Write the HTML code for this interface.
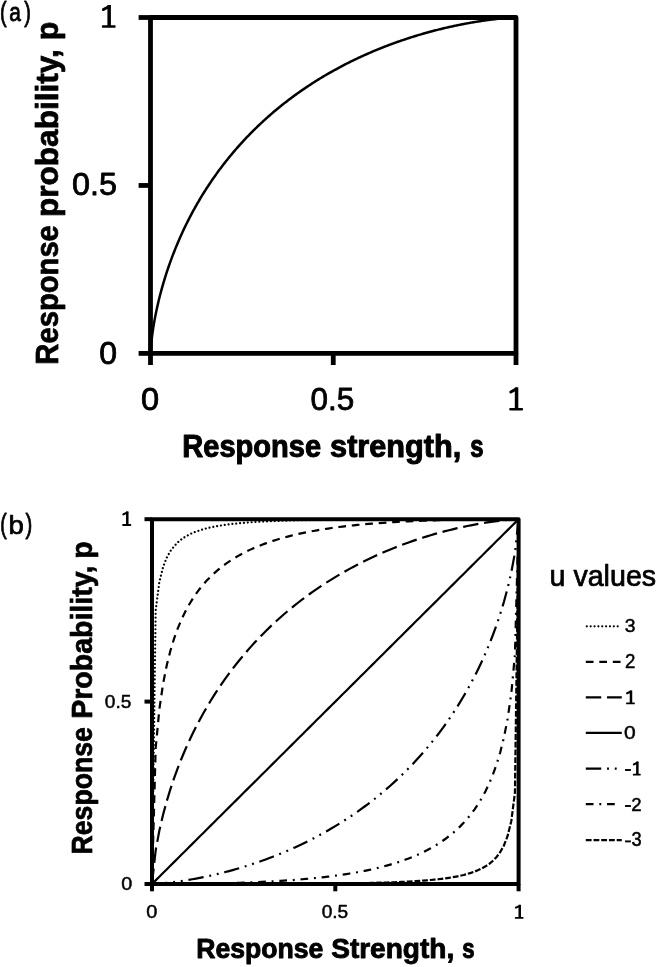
<!DOCTYPE html>
<html><head><meta charset="utf-8"><title>Response probability vs response strength</title>
<style>html,body{margin:0;padding:0;background:#fff;width:657px;height:967px;overflow:hidden}svg{display:block;filter:grayscale(1)}text{font-family:"Liberation Sans",sans-serif}</style>
</head><body>
<svg width="657" height="967" viewBox="0 0 657 967">
<rect width="657" height="967" fill="#fff"/>
<g font-family="Liberation Sans, sans-serif" fill="#000">
<text transform="matrix(0.20000,0,0,0.26989,-0.045,20.857)" font-size="100" stroke="#000" stroke-width="3.228" stroke-linejoin="round">(</text>
<text transform="matrix(0.20865,0,0,0.25000,9.140,20.875)" font-size="100" stroke="#000" stroke-width="3.284" stroke-linejoin="round">a</text>
<text transform="matrix(0.19808,0,0,0.26989,24.277,20.857)" font-size="100" stroke="#000" stroke-width="3.244" stroke-linejoin="round">)</text>
<rect x="107.41" y="5.00" width="3.50" height="21.45"/>
<rect x="101.90" y="25.20" width="13.70" height="2.50" rx="0.75"/>
<line x1="109.16" y1="6.50" x2="103.40" y2="9.54" stroke="#000" stroke-width="3.00" stroke-linecap="round"/>
<text transform="matrix(0.32352,0,0,0.31382,71.915,195.277)" font-size="100" stroke="#000" stroke-width="2.570" stroke-linejoin="round">0.5</text>
<text transform="matrix(0.32006,0,0,0.32060,99.338,363.961)" font-size="100" stroke="#000" stroke-width="2.614" stroke-linejoin="round">0</text>
<text transform="matrix(0.32614,0,0,0.32049,140.918,410.057)" font-size="100" stroke="#000" stroke-width="2.614" stroke-linejoin="round">0</text>
<text transform="matrix(0.31442,0,0,0.31675,310.548,409.878)" font-size="100" stroke="#000" stroke-width="2.570" stroke-linejoin="round">0.5</text>
<rect x="514.81" y="387.40" width="3.50" height="21.75"/>
<rect x="509.30" y="407.90" width="13.70" height="2.50" rx="0.75"/>
<line x1="516.56" y1="388.90" x2="510.80" y2="392.00" stroke="#000" stroke-width="3.00" stroke-linecap="round"/>
<text transform="matrix(0.29060,0,0,0.30971,182.260,456.802)" font-size="100" font-weight="bold" stroke="#000" stroke-width="3.292" stroke-linejoin="round">Response</text>
<text transform="matrix(0.30698,0,0,0.30971,330.066,456.802)" font-size="100" font-weight="bold" stroke="#000" stroke-width="3.203" stroke-linejoin="round">strength,</text>
<text transform="matrix(0.23856,0,0,0.30971,470.340,456.802)" font-size="100" font-weight="bold" stroke="#000" stroke-width="3.633" stroke-linejoin="round">s</text>
<text transform="matrix(0,-0.29197,0.31757,0,58.057,364.670)" font-size="100" font-weight="bold" stroke="#000" stroke-width="2.457" stroke-linejoin="round">Response</text>
<text transform="matrix(0,-0.31593,0.31757,0,58.057,217.037)" font-size="100" font-weight="bold" stroke="#000" stroke-width="2.362" stroke-linejoin="round">probability,</text>
<text transform="matrix(0,-0.30503,0.31757,0,58.057,40.361)" font-size="100" font-weight="bold" stroke="#000" stroke-width="2.404" stroke-linejoin="round">p</text>
<text transform="matrix(0.19423,0,0,0.27021,0.140,533.001)" font-size="100" stroke="#000" stroke-width="3.274" stroke-linejoin="round">(</text>
<text transform="matrix(0.27614,0,0,0.26575,8.542,533.725)" font-size="100" stroke="#000" stroke-width="2.769" stroke-linejoin="round">b</text>
<text transform="matrix(0.20346,0,0,0.27021,25.432,533.001)" font-size="100" stroke="#000" stroke-width="3.199" stroke-linejoin="round">)</text>
<rect x="126.03" y="511.50" width="2.50" height="13.50"/>
<rect x="122.30" y="524.10" width="8.90" height="1.80" rx="0.54"/>
<line x1="127.28" y1="512.55" x2="123.35" y2="514.38" stroke="#000" stroke-width="2.10" stroke-linecap="round"/>
<text transform="matrix(0.19090,0,0,0.19167,104.782,707.763)" font-size="100" stroke="#000" stroke-width="2.570" stroke-linejoin="round">0.5</text>
<text transform="matrix(0.19778,0,0,0.19005,121.262,890.457)" font-size="100" stroke="#000" stroke-width="2.614" stroke-linejoin="round">0</text>
<text transform="matrix(0.19981,0,0,0.19001,146.355,918.355)" font-size="100" stroke="#000" stroke-width="2.613" stroke-linejoin="round">0</text>
<text transform="matrix(0.19096,0,0,0.18613,321.678,918.172)" font-size="100" stroke="#000" stroke-width="2.570" stroke-linejoin="round">0.5</text>
<rect x="518.47" y="904.80" width="2.50" height="13.10"/>
<rect x="514.90" y="917.00" width="8.60" height="1.80" rx="0.54"/>
<line x1="519.72" y1="905.85" x2="515.95" y2="907.60" stroke="#000" stroke-width="2.10" stroke-linecap="round"/>
<text transform="matrix(0.26598,0,0,0.27249,196.281,957.635)" font-size="100" font-weight="bold" stroke="#000" stroke-width="3.290" stroke-linejoin="round">Response</text>
<text transform="matrix(0.28045,0,0,0.27249,331.201,957.635)" font-size="100" font-weight="bold" stroke="#000" stroke-width="3.204" stroke-linejoin="round">Strength,</text>
<text transform="matrix(0.22158,0,0,0.27249,462.256,957.635)" font-size="100" font-weight="bold" stroke="#000" stroke-width="3.604" stroke-linejoin="round">s</text>
<text transform="matrix(0,-0.26642,0.28957,0,91.579,854.425)" font-size="100" font-weight="bold" stroke="#000" stroke-width="2.450" stroke-linejoin="round">Response</text>
<text transform="matrix(0,-0.28512,0.28957,0,91.579,718.756)" font-size="100" font-weight="bold" stroke="#000" stroke-width="2.369" stroke-linejoin="round">Probability,</text>
<text transform="matrix(0,-0.28439,0.28957,0,91.579,558.750)" font-size="100" font-weight="bold" stroke="#000" stroke-width="2.372" stroke-linejoin="round">p</text>
<text transform="matrix(0.28609,0,0,0.29007,549.565,585.842)" font-size="100" stroke="#000" stroke-width="2.551" stroke-linejoin="round">u values</text>
<text transform="matrix(0.19354,0,0,0.19150,624.678,632.357)" font-size="100" stroke="#000" stroke-width="2.615" stroke-linejoin="round">3</text>
<text transform="matrix(0.18694,0,0,0.19570,625.016,668.050)" font-size="100" stroke="#000" stroke-width="2.618" stroke-linejoin="round">2</text>
<text transform="matrix(0.21008,0,0,0.18569,624.118,739.256)" font-size="100" stroke="#000" stroke-width="2.613" stroke-linejoin="round">0</text>
<text transform="matrix(0.18607,0,0,0.18871,631.365,810.655)" font-size="100" stroke="#000" stroke-width="2.618" stroke-linejoin="round">2</text>
<text transform="matrix(0.18210,0,0,0.19378,631.567,846.310)" font-size="100" stroke="#000" stroke-width="2.616" stroke-linejoin="round">3</text>
<rect x="629.72" y="690.50" width="2.50" height="12.80"/>
<rect x="626.10" y="702.40" width="8.70" height="1.80" rx="0.54"/>
<line x1="630.97" y1="691.55" x2="627.15" y2="693.24" stroke="#000" stroke-width="2.10" stroke-linecap="round"/>
<rect x="636.10" y="761.60" width="2.50" height="13.10"/>
<rect x="632.90" y="773.80" width="7.80" height="1.80" rx="0.54"/>
<line x1="637.35" y1="762.65" x2="633.95" y2="764.40" stroke="#000" stroke-width="2.10" stroke-linecap="round"/>
<rect x="625.0" y="769.05" width="5.9" height="1.9"/>
<rect x="625.0" y="805.05" width="5.9" height="1.9"/>
<rect x="625.0" y="840.45" width="5.9" height="1.9"/>
</g>
<path d="M150.50,353.40 L151.41,341.52 L152.33,334.07 L153.24,327.87 L154.16,322.38 L155.07,317.38 L155.98,312.76 L156.90,308.44 L157.81,304.36 L158.72,300.49 L159.64,296.79 L160.55,293.25 L161.47,289.84 L162.38,286.56 L163.29,283.39 L164.21,280.32 L165.12,277.35 L166.03,274.45 L166.95,271.64 L167.86,268.90 L168.78,266.23 L169.69,263.62 L170.60,261.08 L171.52,258.59 L172.43,256.15 L173.34,253.76 L174.26,251.42 L175.17,249.13 L176.09,246.88 L177.00,244.67 L177.91,242.51 L178.83,240.38 L179.74,238.28 L180.65,236.22 L181.57,234.20 L182.48,232.21 L183.39,230.24 L184.31,228.31 L185.22,226.41 L186.14,224.53 L187.05,222.69 L187.96,220.86 L188.88,219.07 L189.79,217.30 L190.70,215.55 L191.62,213.82 L192.53,212.12 L193.45,210.44 L194.36,208.78 L195.27,207.14 L196.19,205.52 L197.10,203.92 L198.01,202.34 L198.93,200.78 L199.84,199.24 L200.76,197.71 L201.67,196.20 L202.58,194.71 L203.50,193.23 L204.41,191.77 L205.32,190.33 L206.24,188.90 L207.15,187.49 L208.07,186.09 L208.98,184.71 L209.89,183.34 L210.81,181.98 L211.72,180.64 L212.63,179.31 L213.55,177.99 L214.46,176.69 L215.38,175.40 L216.29,174.12 L217.20,172.86 L218.12,171.60 L219.03,170.36 L219.94,169.13 L220.86,167.91 L221.77,166.70 L222.69,165.50 L223.60,164.31 L224.51,163.14 L225.43,161.97 L226.34,160.82 L227.25,159.67 L228.17,158.53 L229.08,157.41 L230.00,156.29 L230.91,155.18 L231.82,154.09 L232.74,153.00 L233.65,151.92 L234.56,150.85 L235.48,149.79 L236.39,148.73 L237.31,147.69 L238.22,146.65 L239.13,145.62 L240.05,144.60 L240.96,143.59 L241.88,142.59 L242.79,141.59 L243.70,140.60 L244.62,139.62 L245.53,138.65 L246.44,137.69 L247.36,136.73 L248.27,135.78 L249.19,134.83 L250.10,133.90 L251.01,132.97 L251.93,132.04 L252.84,131.13 L253.75,130.22 L254.67,129.32 L255.58,128.42 L256.50,127.53 L257.41,126.65 L258.32,125.77 L259.24,124.90 L260.15,124.04 L261.06,123.18 L261.98,122.33 L262.89,121.49 L263.81,120.65 L264.72,119.81 L265.63,118.99 L266.55,118.17 L267.46,117.35 L268.37,116.54 L269.29,115.73 L270.20,114.94 L271.12,114.14 L272.03,113.35 L272.94,112.57 L273.86,111.79 L274.77,111.02 L275.68,110.26 L276.60,109.49 L277.51,108.74 L278.43,107.99 L279.34,107.24 L280.25,106.50 L281.17,105.76 L282.08,105.03 L282.99,104.30 L283.91,103.58 L284.82,102.87 L285.74,102.15 L286.65,101.45 L287.56,100.74 L288.48,100.05 L289.39,99.35 L290.30,98.66 L291.22,97.98 L292.13,97.30 L293.05,96.62 L293.96,95.95 L294.87,95.28 L295.79,94.62 L296.70,93.96 L297.61,93.31 L298.53,92.66 L299.44,92.01 L300.36,91.37 L301.27,90.73 L302.18,90.10 L303.10,89.47 L304.01,88.85 L304.92,88.23 L305.84,87.61 L306.75,86.99 L307.66,86.39 L308.58,85.78 L309.49,85.18 L310.41,84.58 L311.32,83.99 L312.23,83.39 L313.15,82.81 L314.06,82.23 L314.98,81.65 L315.89,81.07 L316.80,80.50 L317.72,79.93 L318.63,79.36 L319.54,78.80 L320.46,78.25 L321.37,77.69 L322.28,77.14 L323.20,76.59 L324.11,76.05 L325.03,75.51 L325.94,74.97 L326.85,74.44 L327.77,73.91 L328.68,73.38 L329.60,72.86 L330.51,72.33 L331.42,71.82 L332.34,71.30 L333.25,70.79 L334.16,70.28 L335.08,69.78 L335.99,69.28 L336.90,68.78 L337.82,68.29 L338.73,67.79 L339.65,67.30 L340.56,66.82 L341.47,66.34 L342.39,65.86 L343.30,65.38 L344.22,64.90 L345.13,64.43 L346.04,63.97 L346.96,63.50 L347.87,63.04 L348.78,62.58 L349.70,62.12 L350.61,61.67 L351.52,61.22 L352.44,60.77 L353.35,60.33 L354.27,59.88 L355.18,59.44 L356.09,59.01 L357.01,58.57 L357.92,58.14 L358.83,57.71 L359.75,57.29 L360.66,56.87 L361.58,56.45 L362.49,56.03 L363.40,55.61 L364.32,55.20 L365.23,54.79 L366.14,54.38 L367.06,53.98 L367.97,53.58 L368.89,53.18 L369.80,52.78 L370.71,52.39 L371.63,52.00 L372.54,51.61 L373.45,51.22 L374.37,50.84 L375.28,50.46 L376.20,50.08 L377.11,49.70 L378.02,49.33 L378.94,48.96 L379.85,48.59 L380.76,48.22 L381.68,47.86 L382.59,47.49 L383.51,47.13 L384.42,46.78 L385.33,46.42 L386.25,46.07 L387.16,45.72 L388.08,45.37 L388.99,45.03 L389.90,44.68 L390.82,44.34 L391.73,44.00 L392.64,43.67 L393.56,43.34 L394.47,43.00 L395.38,42.67 L396.30,42.35 L397.21,42.02 L398.13,41.70 L399.04,41.38 L399.95,41.06 L400.87,40.75 L401.78,40.43 L402.69,40.12 L403.61,39.81 L404.52,39.51 L405.44,39.20 L406.35,38.90 L407.26,38.60 L408.18,38.30 L409.09,38.00 L410.00,37.71 L410.92,37.42 L411.83,37.13 L412.75,36.84 L413.66,36.56 L414.57,36.27 L415.49,35.99 L416.40,35.71 L417.31,35.43 L418.23,35.16 L419.14,34.89 L420.06,34.62 L420.97,34.35 L421.88,34.08 L422.80,33.82 L423.71,33.55 L424.62,33.29 L425.54,33.03 L426.45,32.78 L427.37,32.52 L428.28,32.27 L429.19,32.02 L430.11,31.77 L431.02,31.53 L431.94,31.28 L432.85,31.04 L433.76,30.80 L434.68,30.56 L435.59,30.33 L436.50,30.09 L437.42,29.86 L438.33,29.63 L439.25,29.40 L440.16,29.17 L441.07,28.95 L441.99,28.73 L442.90,28.51 L443.81,28.29 L444.73,28.07 L445.64,27.86 L446.56,27.64 L447.47,27.43 L448.38,27.22 L449.30,27.02 L450.21,26.81 L451.12,26.61 L452.04,26.41 L452.95,26.21 L453.87,26.01 L454.78,25.82 L455.69,25.62 L456.61,25.43 L457.52,25.24 L458.43,25.06 L459.35,24.87 L460.26,24.69 L461.18,24.50 L462.09,24.32 L463.00,24.15 L463.92,23.97 L464.83,23.80 L465.74,23.63 L466.66,23.46 L467.57,23.29 L468.49,23.12 L469.40,22.96 L470.31,22.80 L471.23,22.63 L472.14,22.48 L473.05,22.32 L473.97,22.17 L474.88,22.01 L475.80,21.86 L476.71,21.71 L477.62,21.57 L478.54,21.42 L479.45,21.28 L480.36,21.14 L481.28,21.00 L482.19,20.87 L483.11,20.73 L484.02,20.60 L484.93,20.47 L485.85,20.34 L486.76,20.22 L487.67,20.09 L488.59,19.97 L489.50,19.85 L490.42,19.73 L491.33,19.62 L492.24,19.50 L493.16,19.39 L494.07,19.28 L494.98,19.18 L495.90,19.07 L496.81,18.97 L497.72,18.87 L498.64,18.78 L499.55,18.68 L500.47,18.59 L501.38,18.50 L502.29,18.41 L503.21,18.33 L504.12,18.25 L505.03,18.17 L505.95,18.09 L506.86,18.02 L507.78,17.95 L508.69,17.88 L509.60,17.82 L510.52,17.76 L511.43,17.70 L512.35,17.65 L513.26,17.60 L514.17,17.56 L515.09,17.52 L516.00,17.50" fill="none" stroke="#000" stroke-width="2.5"/>
<path d="M152.00,884.00 L155.67,610.50 L159.33,581.95 L163.00,567.18 L166.66,557.79 L170.33,551.19 L174.00,546.27 L177.66,542.45 L181.33,539.40 L184.99,536.90 L188.66,534.83 L192.33,533.09 L195.99,531.60 L199.66,530.32 L203.32,529.21 L206.99,528.24 L210.66,527.39 L214.32,526.64 L217.99,525.97 L221.65,525.37 L225.32,524.84 L228.99,524.36 L232.65,523.92 L236.32,523.53 L239.98,523.18 L243.65,522.86 L247.32,522.56 L250.98,522.30 L254.65,522.05 L258.31,521.83 L261.98,521.63 L265.65,521.44 L269.31,521.27 L272.98,521.11 L276.64,520.96 L280.31,520.83 L283.98,520.71 L287.64,520.59 L291.31,520.49 L294.97,520.39 L298.64,520.30 L302.31,520.21 L305.97,520.14 L309.64,520.07 L313.30,520.00 L316.97,519.94 L320.64,519.88 L324.30,519.83 L327.97,519.78 L331.63,519.73 L335.30,519.69 L338.97,519.65 L342.63,519.62 L346.30,519.58 L349.96,519.55 L353.63,519.52 L357.30,519.50 L360.96,519.47 L364.63,519.45 L368.29,519.43 L371.96,519.41 L375.63,519.39 L379.29,519.37 L382.96,519.36 L386.62,519.34 L390.29,519.33 L393.96,519.32 L397.62,519.31 L401.29,519.30 L404.95,519.29 L408.62,519.28 L412.29,519.27 L415.95,519.26 L419.62,519.26 L423.28,519.25 L426.95,519.24 L430.62,519.24 L434.28,519.23 L437.95,519.23 L441.61,519.23 L445.28,519.22 L448.95,519.22 L452.61,519.22 L456.28,519.21 L459.94,519.21 L463.61,519.21 L467.28,519.21 L470.94,519.21 L474.61,519.21 L478.27,519.20 L481.94,519.20 L485.61,519.20 L489.27,519.20 L492.94,519.20 L496.60,519.20 L500.27,519.20 L503.94,519.20 L507.60,519.20 L511.27,519.20 L514.93,519.20 L518.60,519.20" fill="none" stroke="#000" stroke-width="2.2" stroke-dasharray="0.01 3.85" stroke-linecap="round"/>
<path d="M152.00,884.00 L155.67,748.27 L159.33,709.42 L163.00,684.29 L166.66,665.69 L170.33,650.98 L174.00,638.88 L177.66,628.66 L181.33,619.86 L184.99,612.18 L188.66,605.38 L192.33,599.32 L195.99,593.87 L199.66,588.94 L203.32,584.45 L206.99,580.35 L210.66,576.59 L214.32,573.12 L217.99,569.92 L221.65,566.96 L225.32,564.20 L228.99,561.63 L232.65,559.24 L236.32,557.00 L239.98,554.91 L243.65,552.94 L247.32,551.10 L250.98,549.37 L254.65,547.73 L258.31,546.20 L261.98,544.75 L265.65,543.38 L269.31,542.08 L272.98,540.86 L276.64,539.70 L280.31,538.60 L283.98,537.56 L287.64,536.58 L291.31,535.65 L294.97,534.76 L298.64,533.92 L302.31,533.12 L305.97,532.36 L309.64,531.64 L313.30,530.96 L316.97,530.31 L320.64,529.69 L324.30,529.10 L327.97,528.54 L331.63,528.01 L335.30,527.50 L338.97,527.02 L342.63,526.56 L346.30,526.12 L349.96,525.71 L353.63,525.32 L357.30,524.94 L360.96,524.59 L364.63,524.25 L368.29,523.93 L371.96,523.62 L375.63,523.33 L379.29,523.06 L382.96,522.79 L386.62,522.55 L390.29,522.31 L393.96,522.09 L397.62,521.88 L401.29,521.68 L404.95,521.49 L408.62,521.31 L412.29,521.15 L415.95,520.99 L419.62,520.84 L423.28,520.70 L426.95,520.57 L430.62,520.44 L434.28,520.32 L437.95,520.22 L441.61,520.11 L445.28,520.02 L448.95,519.93 L452.61,519.85 L456.28,519.77 L459.94,519.70 L463.61,519.64 L467.28,519.58 L470.94,519.52 L474.61,519.47 L478.27,519.43 L481.94,519.39 L485.61,519.35 L489.27,519.32 L492.94,519.29 L496.60,519.27 L500.27,519.25 L503.94,519.23 L507.60,519.22 L511.27,519.21 L514.93,519.20 L518.60,519.20" fill="none" stroke="#000" stroke-width="2.2" stroke-dasharray="7.72 5.79" stroke-linecap="butt"/>
<path d="M152.00,884.00 L155.67,850.31 L159.33,830.74 L163.00,814.97 L166.66,801.40 L170.33,789.33 L174.00,778.38 L177.66,768.32 L181.33,758.98 L184.99,750.25 L188.66,742.04 L192.33,734.29 L195.99,726.94 L199.66,719.95 L203.32,713.28 L206.99,706.90 L210.66,700.79 L214.32,694.93 L217.99,689.30 L221.65,683.87 L225.32,678.65 L228.99,673.60 L232.65,668.73 L236.32,664.02 L239.98,659.46 L243.65,655.05 L247.32,650.77 L250.98,646.63 L254.65,642.60 L258.31,638.70 L261.98,634.91 L265.65,631.22 L269.31,627.64 L272.98,624.16 L276.64,620.77 L280.31,617.47 L283.98,614.26 L287.64,611.14 L291.31,608.09 L294.97,605.13 L298.64,602.24 L302.31,599.43 L305.97,596.69 L309.64,594.01 L313.30,591.41 L316.97,588.86 L320.64,586.39 L324.30,583.97 L327.97,581.62 L331.63,579.32 L335.30,577.08 L338.97,574.89 L342.63,572.76 L346.30,570.68 L349.96,568.66 L353.63,566.68 L357.30,564.75 L360.96,562.87 L364.63,561.04 L368.29,559.26 L371.96,557.52 L375.63,555.82 L379.29,554.17 L382.96,552.56 L386.62,551.00 L390.29,549.47 L393.96,547.99 L397.62,546.54 L401.29,545.13 L404.95,543.77 L408.62,542.44 L412.29,541.15 L415.95,539.89 L419.62,538.68 L423.28,537.50 L426.95,536.35 L430.62,535.24 L434.28,534.17 L437.95,533.13 L441.61,532.12 L445.28,531.15 L448.95,530.22 L452.61,529.31 L456.28,528.44 L459.94,527.61 L463.61,526.81 L467.28,526.04 L470.94,525.31 L474.61,524.60 L478.27,523.94 L481.94,523.31 L485.61,522.71 L489.27,522.15 L492.94,521.62 L496.60,521.14 L500.27,520.69 L503.94,520.28 L507.60,519.92 L511.27,519.61 L514.93,519.36 L518.60,519.20" fill="none" stroke="#000" stroke-width="2.2" stroke-dasharray="15.44 5.79" stroke-linecap="butt"/>
<path d="M152.00,884.00 L155.67,880.35 L159.33,876.70 L163.00,873.06 L166.66,869.41 L170.33,865.76 L174.00,862.11 L177.66,858.46 L181.33,854.82 L184.99,851.17 L188.66,847.52 L192.33,843.87 L195.99,840.22 L199.66,836.58 L203.32,832.93 L206.99,829.28 L210.66,825.63 L214.32,821.98 L217.99,818.34 L221.65,814.69 L225.32,811.04 L228.99,807.39 L232.65,803.74 L236.32,800.10 L239.98,796.45 L243.65,792.80 L247.32,789.15 L250.98,785.50 L254.65,781.86 L258.31,778.21 L261.98,774.56 L265.65,770.91 L269.31,767.26 L272.98,763.62 L276.64,759.97 L280.31,756.32 L283.98,752.67 L287.64,749.02 L291.31,745.38 L294.97,741.73 L298.64,738.08 L302.31,734.43 L305.97,730.78 L309.64,727.14 L313.30,723.49 L316.97,719.84 L320.64,716.19 L324.30,712.54 L327.97,708.90 L331.63,705.25 L335.30,701.60 L338.97,697.95 L342.63,694.30 L346.30,690.66 L349.96,687.01 L353.63,683.36 L357.30,679.71 L360.96,676.06 L364.63,672.42 L368.29,668.77 L371.96,665.12 L375.63,661.47 L379.29,657.82 L382.96,654.18 L386.62,650.53 L390.29,646.88 L393.96,643.23 L397.62,639.58 L401.29,635.94 L404.95,632.29 L408.62,628.64 L412.29,624.99 L415.95,621.34 L419.62,617.70 L423.28,614.05 L426.95,610.40 L430.62,606.75 L434.28,603.10 L437.95,599.46 L441.61,595.81 L445.28,592.16 L448.95,588.51 L452.61,584.86 L456.28,581.22 L459.94,577.57 L463.61,573.92 L467.28,570.27 L470.94,566.62 L474.61,562.98 L478.27,559.33 L481.94,555.68 L485.61,552.03 L489.27,548.38 L492.94,544.74 L496.60,541.09 L500.27,537.44 L503.94,533.79 L507.60,530.14 L511.27,526.50 L514.93,522.85 L518.60,519.20" fill="none" stroke="#000" stroke-width="2.2" stroke-linecap="butt"/>
<path d="M152.00,884.00 L155.67,883.84 L159.33,883.59 L163.00,883.28 L166.66,882.92 L170.33,882.51 L174.00,882.06 L177.66,881.58 L181.33,881.05 L184.99,880.49 L188.66,879.89 L192.33,879.26 L195.99,878.60 L199.66,877.89 L203.32,877.16 L206.99,876.39 L210.66,875.59 L214.32,874.76 L217.99,873.89 L221.65,872.98 L225.32,872.05 L228.99,871.08 L232.65,870.07 L236.32,869.03 L239.98,867.96 L243.65,866.85 L247.32,865.70 L250.98,864.52 L254.65,863.31 L258.31,862.05 L261.98,860.76 L265.65,859.43 L269.31,858.07 L272.98,856.66 L276.64,855.21 L280.31,853.73 L283.98,852.20 L287.64,850.64 L291.31,849.03 L294.97,847.38 L298.64,845.68 L302.31,843.94 L305.97,842.16 L309.64,840.33 L313.30,838.45 L316.97,836.52 L320.64,834.54 L324.30,832.52 L327.97,830.44 L331.63,828.31 L335.30,826.12 L338.97,823.88 L342.63,821.58 L346.30,819.23 L349.96,816.81 L353.63,814.34 L357.30,811.79 L360.96,809.19 L364.63,806.51 L368.29,803.77 L371.96,800.96 L375.63,798.07 L379.29,795.11 L382.96,792.06 L386.62,788.94 L390.29,785.73 L393.96,782.43 L397.62,779.04 L401.29,775.56 L404.95,771.98 L408.62,768.29 L412.29,764.50 L415.95,760.60 L419.62,756.57 L423.28,752.43 L426.95,748.15 L430.62,743.74 L434.28,739.18 L437.95,734.47 L441.61,729.60 L445.28,724.55 L448.95,719.33 L452.61,713.90 L456.28,708.27 L459.94,702.41 L463.61,696.30 L467.28,689.92 L470.94,683.25 L474.61,676.26 L478.27,668.91 L481.94,661.16 L485.61,652.95 L489.27,644.22 L492.94,634.88 L496.60,624.82 L500.27,613.87 L503.94,601.80 L507.60,588.23 L511.27,572.46 L514.93,552.89 L518.60,519.20" fill="none" stroke="#000" stroke-width="2.2" stroke-dasharray="15.44 5.79 1.93 5.79 1.93 5.79" stroke-linecap="butt"/>
<path d="M152.00,884.00 L155.67,884.00 L159.33,883.99 L163.00,883.98 L166.66,883.97 L170.33,883.95 L174.00,883.93 L177.66,883.91 L181.33,883.88 L184.99,883.85 L188.66,883.81 L192.33,883.77 L195.99,883.73 L199.66,883.68 L203.32,883.62 L206.99,883.56 L210.66,883.50 L214.32,883.43 L217.99,883.35 L221.65,883.27 L225.32,883.18 L228.99,883.09 L232.65,882.98 L236.32,882.88 L239.98,882.76 L243.65,882.63 L247.32,882.50 L250.98,882.36 L254.65,882.21 L258.31,882.05 L261.98,881.89 L265.65,881.71 L269.31,881.52 L272.98,881.32 L276.64,881.11 L280.31,880.89 L283.98,880.65 L287.64,880.41 L291.31,880.14 L294.97,879.87 L298.64,879.58 L302.31,879.27 L305.97,878.95 L309.64,878.61 L313.30,878.26 L316.97,877.88 L320.64,877.49 L324.30,877.08 L327.97,876.64 L331.63,876.18 L335.30,875.70 L338.97,875.19 L342.63,874.66 L346.30,874.10 L349.96,873.51 L353.63,872.89 L357.30,872.24 L360.96,871.56 L364.63,870.84 L368.29,870.08 L371.96,869.28 L375.63,868.44 L379.29,867.55 L382.96,866.62 L386.62,865.64 L390.29,864.60 L393.96,863.50 L397.62,862.34 L401.29,861.12 L404.95,859.82 L408.62,858.45 L412.29,857.00 L415.95,855.47 L419.62,853.83 L423.28,852.10 L426.95,850.26 L430.62,848.29 L434.28,846.20 L437.95,843.96 L441.61,841.57 L445.28,839.00 L448.95,836.24 L452.61,833.28 L456.28,830.08 L459.94,826.61 L463.61,822.85 L467.28,818.75 L470.94,814.26 L474.61,809.33 L478.27,803.88 L481.94,797.82 L485.61,791.02 L489.27,783.34 L492.94,774.54 L496.60,764.32 L500.27,752.22 L503.94,737.51 L507.60,718.91 L511.27,693.78 L514.93,654.93 L518.60,519.20" fill="none" stroke="#000" stroke-width="2.2" stroke-dasharray="7.72 5.79 1.93 5.79" stroke-linecap="butt"/>
<path d="M152.00,884.00 L155.67,884.00 L159.33,884.00 L163.00,884.00 L166.66,884.00 L170.33,884.00 L174.00,884.00 L177.66,884.00 L181.33,884.00 L184.99,884.00 L188.66,884.00 L192.33,884.00 L195.99,883.99 L199.66,883.99 L203.32,883.99 L206.99,883.99 L210.66,883.99 L214.32,883.99 L217.99,883.98 L221.65,883.98 L225.32,883.98 L228.99,883.97 L232.65,883.97 L236.32,883.97 L239.98,883.96 L243.65,883.96 L247.32,883.95 L250.98,883.94 L254.65,883.94 L258.31,883.93 L261.98,883.92 L265.65,883.91 L269.31,883.90 L272.98,883.89 L276.64,883.88 L280.31,883.87 L283.98,883.86 L287.64,883.84 L291.31,883.83 L294.97,883.81 L298.64,883.79 L302.31,883.77 L305.97,883.75 L309.64,883.73 L313.30,883.70 L316.97,883.68 L320.64,883.65 L324.30,883.62 L327.97,883.58 L331.63,883.55 L335.30,883.51 L338.97,883.47 L342.63,883.42 L346.30,883.37 L349.96,883.32 L353.63,883.26 L357.30,883.20 L360.96,883.13 L364.63,883.06 L368.29,882.99 L371.96,882.90 L375.63,882.81 L379.29,882.71 L382.96,882.61 L386.62,882.49 L390.29,882.37 L393.96,882.24 L397.62,882.09 L401.29,881.93 L404.95,881.76 L408.62,881.57 L412.29,881.37 L415.95,881.15 L419.62,880.90 L423.28,880.64 L426.95,880.34 L430.62,880.02 L434.28,879.67 L437.95,879.28 L441.61,878.84 L445.28,878.36 L448.95,877.83 L452.61,877.23 L456.28,876.56 L459.94,875.81 L463.61,874.96 L467.28,873.99 L470.94,872.88 L474.61,871.60 L478.27,870.11 L481.94,868.37 L485.61,866.30 L489.27,863.80 L492.94,860.75 L496.60,856.93 L500.27,852.01 L503.94,845.41 L507.60,836.02 L511.27,821.25 L514.93,792.70 L518.60,519.20" fill="none" stroke="#000" stroke-width="2.2" stroke-dasharray="5.79 1.93" stroke-linecap="butt"/>
<path d="M150.5,353.4 L150.5,17.5 L516.0,17.5 L516.0,353.4 Z" fill="none" stroke="#000" stroke-width="4.8" stroke-linejoin="round"/>
<line x1="138.6" y1="353.4" x2="150.5" y2="353.4" stroke="#000" stroke-width="4.8"/>
<line x1="138.6" y1="185.45" x2="150.5" y2="185.45" stroke="#000" stroke-width="4.8"/>
<line x1="138.6" y1="17.5" x2="150.5" y2="17.5" stroke="#000" stroke-width="4.8"/>
<line x1="150.5" y1="353.4" x2="150.5" y2="365.0" stroke="#000" stroke-width="4.8"/>
<line x1="333.25" y1="353.4" x2="333.25" y2="365.0" stroke="#000" stroke-width="4.8"/>
<line x1="516.0" y1="353.4" x2="516.0" y2="365.0" stroke="#000" stroke-width="4.8"/>
<path d="M152.0,884.0 L152.0,519.2 L518.6,519.2 L518.6,884.0 Z" fill="none" stroke="#000" stroke-width="4.0" stroke-linejoin="round"/>
<line x1="144.5" y1="884.0" x2="152.0" y2="884.0" stroke="#000" stroke-width="4.0"/>
<line x1="144.5" y1="701.6" x2="152.0" y2="701.6" stroke="#000" stroke-width="4.0"/>
<line x1="144.5" y1="519.2" x2="152.0" y2="519.2" stroke="#000" stroke-width="4.0"/>
<line x1="152.0" y1="884.0" x2="152.0" y2="891.3" stroke="#000" stroke-width="4.0"/>
<line x1="335.3" y1="884.0" x2="335.3" y2="891.3" stroke="#000" stroke-width="4.0"/>
<line x1="518.6" y1="884.0" x2="518.6" y2="891.3" stroke="#000" stroke-width="4.0"/>
<line x1="586.8" y1="626.3" x2="619.6" y2="626.3" stroke="#000" stroke-width="2.2" stroke-dasharray="0.01 3.85" stroke-linecap="round"/>
<line x1="585.8" y1="661.9" x2="621.8" y2="661.9" stroke="#000" stroke-width="2.2" stroke-dasharray="7.72 5.79" stroke-linecap="butt"/>
<line x1="585.8" y1="697.4" x2="621.8" y2="697.4" stroke="#000" stroke-width="2.2" stroke-dasharray="15.44 5.79" stroke-linecap="butt"/>
<line x1="585.8" y1="732.8" x2="621.8" y2="732.8" stroke="#000" stroke-width="2.2" stroke-linecap="butt"/>
<line x1="585.8" y1="768.6" x2="621.8" y2="768.6" stroke="#000" stroke-width="2.2" stroke-dasharray="15.44 5.79 1.93 5.79 1.93 5.79" stroke-linecap="butt"/>
<line x1="585.8" y1="804.2" x2="616.0" y2="804.2" stroke="#000" stroke-width="2.2" stroke-dasharray="7.72 5.79 1.93 5.79" stroke-linecap="butt"/>
<line x1="585.8" y1="840.2" x2="621.8" y2="840.2" stroke="#000" stroke-width="2.2" stroke-dasharray="5.79 1.93" stroke-linecap="butt"/>
</svg>
</body></html>
